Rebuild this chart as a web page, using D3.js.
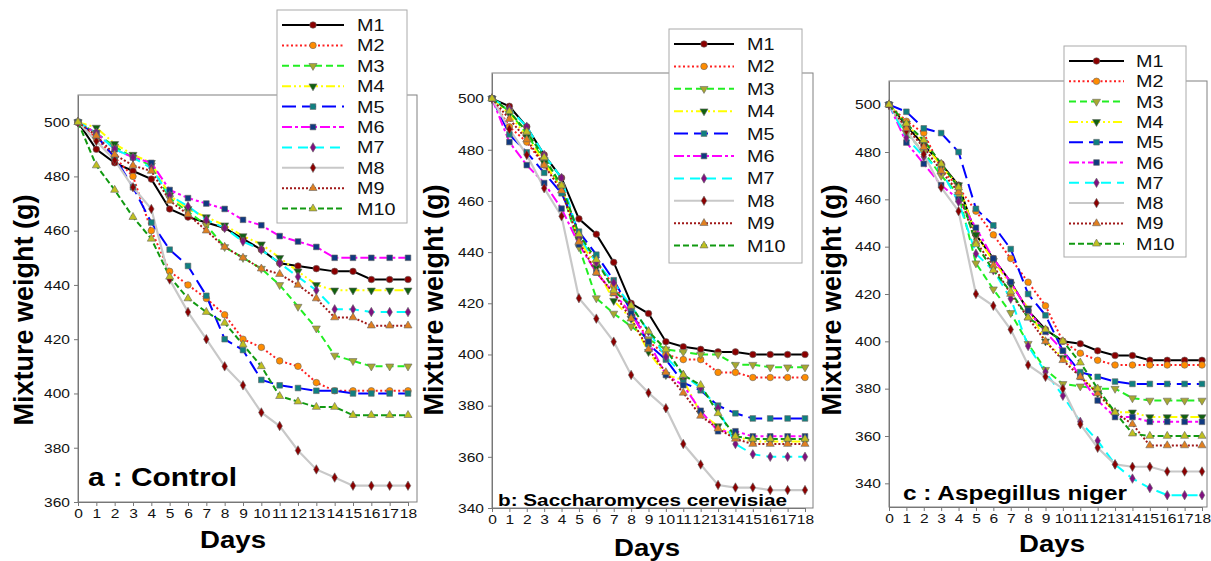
<!DOCTYPE html>
<html>
<head>
<meta charset="utf-8">
<script src="https://cdn.jsdelivr.net/npm/d3@7"></script>
<style>
  body { margin: 0; background: #fff; }
  text { font-family: 'Liberation Sans', Arial, sans-serif; }
</style>
</head>
<body>
<svg id="chart" width="1211" height="561"></svg>
<script>
/* globals d3 */

// days on the x axis
var days = [0, 1, 2, 3, 4, 5, 6, 7, 8, 9, 10, 11, 12, 13, 14, 15, 16, 17, 18]
var seriesNames = ['M1', 'M2', 'M3', 'M4', 'M5', 'M6', 'M7', 'M8', 'M9', 'M10']

// mixture weight (g), one row per mixture M1..M10
var controlValues = [
  [500, 490, 485, 482, 479, 468, 465, 463, 461, 457, 453, 448, 447, 446, 445, 445, 442, 442, 442],
  [500, 494, 487, 480, 460, 445, 440, 435, 429, 420, 417, 412, 410, 404, 401, 401, 401, 401, 401],
  [500, 496, 491, 487, 484, 472, 467, 462, 454, 450, 446, 440, 432, 424, 414, 412, 410, 410, 410],
  [500, 498, 492, 488, 485, 473, 468, 465, 462, 458, 455, 450, 445, 440, 438, 438, 438, 438, 438],
  [500, 495, 487, 476, 463, 453, 447, 436, 420, 416, 405, 403, 402, 401, 401, 400, 400, 400, 400],
  [500, 496, 490, 487, 485, 475, 472, 470, 468, 464, 462, 458, 456, 454, 450, 450, 450, 450, 450],
  [500, 496, 490, 487, 483, 473, 469, 464, 461, 456, 453, 448, 443, 438, 431, 431, 430, 430, 430],
  [500, 493, 486, 476, 468, 442, 430, 420, 410, 403, 393, 388, 379, 372, 369, 366, 366, 366, 366],
  [500, 495, 488, 484, 482, 471, 466, 460, 454, 450, 446, 444, 440, 435, 428, 428, 425, 425, 425],
  [500, 484, 475, 465, 457, 443, 435, 430, 426, 418, 410, 399, 397, 395, 395, 392, 392, 392, 392]
]

var saccharomycesValues = [
  [500, 497, 489, 478, 469, 453, 447, 436, 420, 416, 405, 403, 402, 401, 401, 400, 400, 400, 400],
  [500, 489, 483, 474, 466, 446, 436, 427, 418, 405, 400, 398, 398, 393, 393, 391, 391, 391, 391],
  [500, 495, 486, 476, 465, 442, 422, 416, 411, 406, 402, 401, 400, 400, 396, 396, 395, 395, 395],
  [500, 494, 485, 475, 465, 445, 434, 421, 414, 401, 392, 390, 377, 372, 368, 366, 366, 366, 366],
  [500, 486, 479, 471, 463, 448, 439, 429, 417, 404, 398, 389, 386, 380, 377, 375, 375, 375, 375],
  [500, 483, 474, 467, 457, 443, 432, 424, 416, 405, 392, 388, 378, 370, 370, 368, 368, 368, 368],
  [500, 496, 489, 478, 469, 446, 436, 428, 419, 409, 399, 392, 387, 379, 365, 361, 360, 360, 360],
  [500, 488, 478, 465, 454, 422, 414, 405, 392, 385, 379, 365, 357, 349, 348, 348, 347, 347, 347],
  [500, 492, 484, 474, 464, 444, 432, 424, 414, 402, 393, 385, 376, 371, 367, 365, 365, 365, 365],
  [500, 495, 487, 477, 466, 447, 437, 425, 419, 409, 402, 392, 388, 377, 368, 367, 367, 367, 367]
]

var aspergillusValues = [
  [500, 491, 483, 475, 466, 445, 435, 425, 413, 405, 400, 399, 396, 394, 394, 392, 392, 392, 392],
  [500, 493, 488, 473, 465, 455, 445, 435, 425, 415, 400, 395, 392, 390, 390, 390, 390, 390, 390],
  [500, 488, 480, 470, 462, 433, 422, 412, 399, 388, 382, 381, 380, 380, 376, 375, 375, 375, 375],
  [500, 492, 484, 474, 466, 445, 434, 424, 414, 400, 393, 386, 378, 370, 370, 368, 368, 368, 368],
  [500, 497, 490, 488, 480, 456, 449, 439, 420, 411, 396, 387, 385, 383, 382, 382, 382, 382, 382],
  [500, 484, 475, 466, 460, 448, 435, 425, 413, 404, 396, 385, 375, 368, 368, 366, 366, 366, 366],
  [500, 486, 478, 472, 459, 437, 430, 418, 398, 387, 377, 366, 358, 348, 342, 338, 335, 335, 335],
  [500, 489, 479, 465, 455, 420, 415, 405, 390, 385, 380, 365, 355, 348, 347, 347, 345, 345, 345],
  [500, 490, 482, 472, 463, 442, 432, 420, 410, 400, 392, 385, 378, 370, 365, 356, 356, 356, 356],
  [500, 492, 485, 475, 465, 441, 430, 421, 410, 405, 400, 391, 380, 370, 361, 360, 360, 360, 360]
]

var controlTicks = [360, 380, 400, 420, 440, 460, 480, 500]
var saccharomycesTicks = [340, 360, 380, 400, 420, 440, 460, 480, 500]
var aspergillusTicks = [340, 360, 380, 400, 420, 440, 460, 480, 500]

// line and marker styles per mixture
var lineColors = ['#000000', '#ff2020', '#22ee22', '#ffff00', '#0000ff', '#ff00ff', '#00ffff', '#c8c8c8', '#a01818', '#119911']
var dashes = ['none', '2,2.5', '7,4', '9,3,2,3,2,3', '14,6', '10,3,3,3', '10,6', 'none', '2,2', '6,3']
var markerFills = ['#8b0000', '#ff8c00', '#a8a830', '#106010', '#108080', '#103a80', '#801080', '#8b0000', '#e08020', '#c0c020']
var markerShapes = ['circle', 'circle', 'down', 'down', 'square', 'square', 'diamond', 'diamond', 'up', 'up']

var panels = [
  {
    values: controlValues, ticks: controlTicks, yDomain: [360, 510],
    left: 78, x18: 408, right: 417, top: 95, bottom: 502,
    title: 'a : Control', titleX: 88, titleY: 486, titleSize: 26, titleLen: 149,
    yLabelX: 33, yLabelY: 310, daysX: 233, daysY: 548,
    legend: { x: 277, y: 10, w: 130, h: 213, step: 20.4, lineW: 62, textX: 80 }
  },
  {
    values: saccharomycesValues, ticks: saccharomycesTicks, yDomain: [340, 510],
    left: 492, x18: 805, right: 813, top: 73, bottom: 508,
    title: 'b: Saccharomyces cerevisiae', titleX: 498, titleY: 506, titleSize: 17, titleLen: 289,
    yLabelX: 443, yLabelY: 300, daysX: 647, daysY: 556,
    legend: { x: 669, y: 29, w: 133, h: 234, step: 22.4, lineW: 60, textX: 78 }
  },
  {
    values: aspergillusValues, ticks: aspergillusTicks, yDomain: [330, 510],
    left: 889, x18: 1202, right: 1207, top: 81, bottom: 507,
    title: 'c : Aspegillus niger', titleX: 903, titleY: 500, titleSize: 20, titleLen: 224,
    yLabelX: 841, yLabelY: 300, daysX: 1052, daysY: 552,
    legend: { x: 1064, y: 46, w: 122, h: 211, step: 20.3, lineW: 55, textX: 72 }
  }
]

var svg = d3.select('#chart')

panels.forEach(drawPanel)

// the figure is a little wider than its type, so text is stretched sideways
function stretch (sel, k) {
  sel.each(function () {
    var len = this.getComputedTextLength()
    d3.select(this)
      .attr('textLength', len * k)
      .attr('lengthAdjust', 'spacingAndGlyphs')
  })
}

function symbolFor (shape, size) {
  var types = {
    circle: d3.symbolCircle,
    square: d3.symbolSquare,
    diamond: d3.symbolDiamond,
    up: d3.symbolTriangle,
    down: d3.symbolTriangle
  }
  return d3.symbol().type(types[shape]).size(size)()
}

function drawMarker (g, i, cx, cy) {
  var shape = markerShapes[i]
  var size = { circle: 34, square: 32, diamond: 26, up: 28, down: 28 }[shape]
  g.append('path')
   .attr('d', symbolFor(shape, size))
   .attr('transform', 'translate(' + cx + ',' + cy + ')' + (shape === 'down' ? ' rotate(180)' : ''))
   .attr('fill', markerFills[i])
   .attr('stroke', '#666')
   .attr('stroke-width', 0.6)
}

function drawPanel (p) {
  var x = d3.scaleLinear().domain([0, 18]).range([p.left, p.x18])
  var y = d3.scaleLinear().domain(p.yDomain).range([p.bottom, p.top])
  var g = svg.append('g')

  // plot frame
  g.append('rect')
   .attr('x', p.left)
   .attr('y', p.top)
   .attr('width', p.right - p.left)
   .attr('height', p.bottom - p.top)
   .attr('fill', 'none')
   .attr('stroke', '#808080')
   .attr('stroke-width', 1)

  var xAxis = g.append('g')
               .attr('transform', 'translate(0,' + p.bottom + ')')
               .call(d3.axisBottom(x).tickValues(days).tickSize(4).tickSizeOuter(0).tickPadding(2))
  var yAxis = g.append('g')
               .attr('transform', 'translate(' + p.left + ',0)')
               .call(d3.axisLeft(y).tickValues(p.ticks).tickSize(4).tickSizeOuter(0).tickPadding(4))

  ;[xAxis, yAxis].forEach(function (ax) {
    ax.select('.domain').attr('stroke', '#777')
    ax.selectAll('.tick line').attr('stroke', '#777')
    ax.selectAll('.tick text')
      .attr('fill', '#111')
      .style('font-size', '13.5px')
      .style('font-family', "'Liberation Sans', Arial, sans-serif")
      .call(stretch, 1.15)
  })

  var line = d3.line()
               .x(function (d, i) { return x(days[i]) })
               .y(function (d) { return y(d) })

  p.values.forEach(function (series, i) {
    g.append('path')
     .attr('d', line(series))
     .attr('fill', 'none')
     .attr('stroke', lineColors[i])
     .attr('stroke-width', i === 7 ? 2.2 : 2)
     .attr('stroke-dasharray', dashes[i])
  })

  p.values.forEach(function (series, i) {
    series.forEach(function (v, j) {
      drawMarker(g, i, x(days[j]), y(v))
    })
  })

  // labels
  g.append('text')
   .attr('x', p.titleX)
   .attr('y', p.titleY)
   .attr('font-weight', 'bold')
   .attr('font-size', p.titleSize)
   .attr('textLength', p.titleLen)
   .attr('lengthAdjust', 'spacingAndGlyphs')
   .text(p.title)

  g.append('text')
   .attr('transform', 'translate(' + p.yLabelX + ',' + p.yLabelY + ') rotate(-90)')
   .attr('text-anchor', 'middle')
   .attr('font-weight', 'bold')
   .attr('font-size', 27)
   .text('Mixture weight (g)')

  g.append('text')
   .attr('x', p.daysX)
   .attr('y', p.daysY)
   .attr('text-anchor', 'middle')
   .attr('font-weight', 'bold')
   .attr('font-size', 23)
   .text('Days')
   .call(stretch, 1.2)

  // legend
  var L = p.legend
  var leg = g.append('g').attr('transform', 'translate(' + L.x + ',' + L.y + ')')
  leg.append('rect')
     .attr('width', L.w)
     .attr('height', L.h)
     .attr('fill', '#fff')
     .attr('stroke', '#aaa')

  seriesNames.forEach(function (name, i) {
    var ly = 15 + i * L.step
    leg.append('line')
       .attr('x1', 5)
       .attr('x2', 5 + L.lineW)
       .attr('y1', ly)
       .attr('y2', ly)
       .attr('stroke', lineColors[i])
       .attr('stroke-width', 2)
       .attr('stroke-dasharray', dashes[i])
    drawMarker(leg, i, 5 + L.lineW / 2, ly)
    leg.append('text')
       .attr('x', L.textX)
       .attr('y', ly + 6)
       .attr('font-size', 16.5)
       .attr('fill', '#111')
       .text(name)
       .call(stretch, 1.2)
  })
}
</script>
</body>
</html>
